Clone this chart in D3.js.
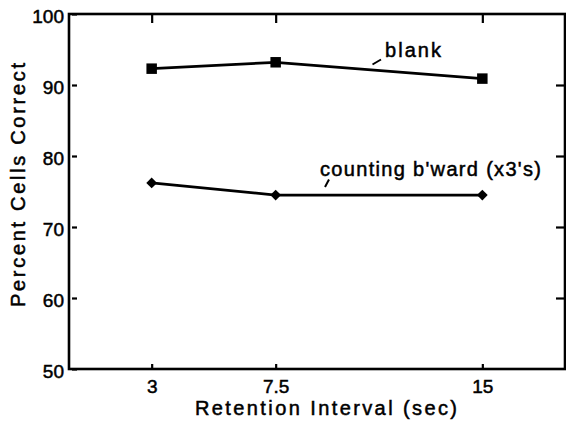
<!DOCTYPE html>
<html><head><meta charset="utf-8">
<script src="https://cdn.jsdelivr.net/npm/d3@7"></script>
<style>
html,body{margin:0;padding:0;background:#fff;}
svg text{font-family:"Liberation Sans",Arial,Helvetica,sans-serif;fill:#000;stroke:#000;stroke-width:0.5px;}
</style></head>
<body><svg id="c" width="566" height="428"></svg>
<script>
const intervals = [3, 7.5, 15];
const blankValues = [92.3, 93.2, 90.9];
const countingValues = [76.2, 74.5, 74.5];
const yTickValues = [50, 60, 70, 80, 90, 100];
const xTickLabels = ["3", "7.5", "15"];
const seriesNames = ["blank", "counting b'ward (x3's)"];
const xTitle = "Retention Interval (sec)";
const yTitle = "Percent Cells Correct";

(function(){
const L = 69, R = 565, T = 14, B = 369;
const svg = d3.select("#c");
const x = d3.scaleLinear().domain([0, 18]).range([L, R]);
const y = d3.scaleLinear().domain([50, 100]).range([B, T]);

svg.append("rect").attr("x", L).attr("y", T).attr("width", R - L).attr("height", B - T)
  .attr("fill", "none").attr("stroke", "#000").attr("stroke-width", 2.6);

function styleAxis(g){
  g.select(".domain").remove();
  g.selectAll(".tick line").attr("stroke", "#000").attr("stroke-width", 2.2);
  g.selectAll(".tick text").attr("font-size", 19).attr("font-family", null);
}

const gLeft = svg.append("g").attr("transform", `translate(${L},0)`)
  .call(d3.axisLeft(y).tickValues(yTickValues).tickSize(-8).tickSizeOuter(0).tickPadding(5).tickFormat(d3.format("d")));
styleAxis(gLeft);
gLeft.selectAll(".tick line").attr("x1", 3);
gLeft.selectAll(".tick text").attr("dy", "0.45em");

const gRight = svg.append("g").attr("transform", `translate(${R},0)`)
  .call(d3.axisRight(y).tickValues(yTickValues.slice(1, -1)).tickSize(-9).tickSizeOuter(0).tickFormat(""));
styleAxis(gRight);

const gBottom = svg.append("g").attr("transform", `translate(0,${B})`)
  .call(d3.axisBottom(x).tickValues(intervals).tickSize(-5).tickSizeOuter(0).tickPadding(11)
    .tickFormat((d, i) => xTickLabels[i]));
styleAxis(gBottom);

const gTop = svg.append("g").attr("transform", `translate(0,${T})`)
  .call(d3.axisTop(x).tickValues(intervals).tickSize(-9).tickSizeOuter(0).tickFormat(""));
styleAxis(gTop);

const line = d3.line().x((d, i) => x(intervals[i])).y(d => y(d));
[blankValues, countingValues].forEach(vals => {
  svg.append("path").datum(vals).attr("d", line)
    .attr("fill", "none").attr("stroke", "#000").attr("stroke-width", 2.8);
});

svg.selectAll(".sq").data(blankValues).join("path").attr("class", "sq")
  .attr("transform", (d, i) => `translate(${x(intervals[i])},${y(d)})`)
  .attr("d", d3.symbol(d3.symbolSquare, 110)());
svg.selectAll(".dm").data(countingValues).join("path").attr("class", "dm")
  .attr("transform", (d, i) => `translate(${x(intervals[i])},${y(d)}) rotate(45)`)
  .attr("d", d3.symbol(d3.symbolSquare, 58)());

svg.append("text").attr("x", 385).attr("y", 57).attr("font-size", 20)
  .attr("textLength", 56).attr("lengthAdjust", "spacing").text(seriesNames[0]);
svg.append("line").attr("x1", 372.5).attr("y1", 64.5).attr("x2", 381).attr("y2", 59.5)
  .attr("stroke", "#000").attr("stroke-width", 2);
svg.append("text").attr("x", 320).attr("y", 176).attr("font-size", 20)
  .attr("textLength", 221).attr("lengthAdjust", "spacing").text(seriesNames[1]);
svg.append("line").attr("x1", 325).attr("y1", 187).attr("x2", 329).attr("y2", 179.5)
  .attr("stroke", "#000").attr("stroke-width", 2);

svg.append("text").attr("x", 195).attr("y", 415).attr("font-size", 20)
  .attr("textLength", 262).attr("lengthAdjust", "spacing").text(xTitle);
svg.append("text").attr("transform", "translate(25,307) rotate(-90)").attr("font-size", 20)
  .attr("textLength", 244).attr("lengthAdjust", "spacing").text(yTitle);
})();
</script></body></html>
